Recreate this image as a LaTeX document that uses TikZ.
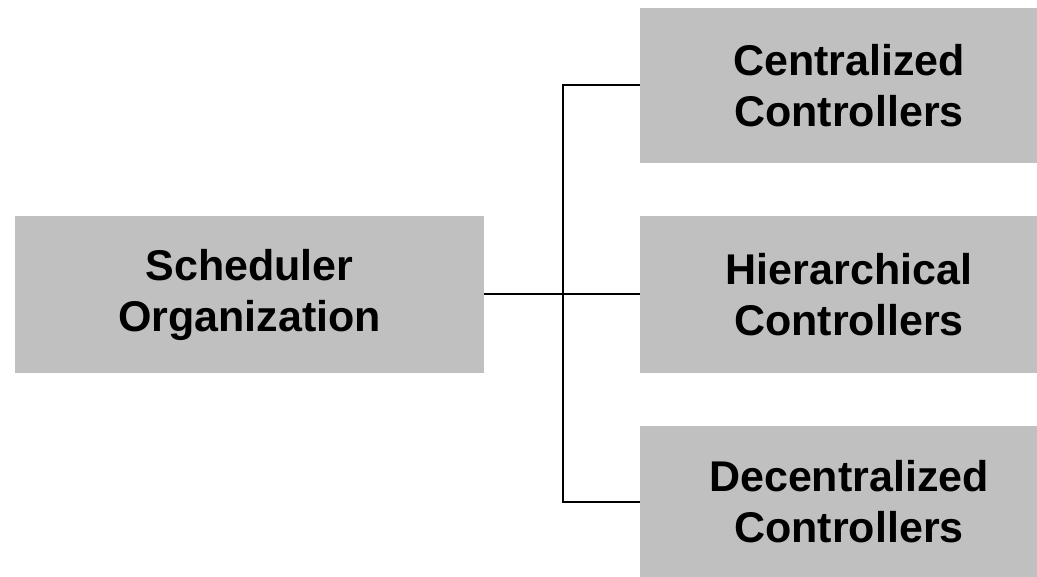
\documentclass[tikz,border=0pt]{standalone}
\usepackage{fontspec}
\setmainfont{Liberation Sans}
\usepackage{tikz}
\definecolor{boxgray}{HTML}{C0C0C0}

\begin{document}
\begin{tikzpicture}[x=1pt,y=-1pt,
    box/.style={fill=boxgray,inner sep=0pt,align=center,
        font=\bfseries\fontsize{43}{51}\selectfont},
    link/.style={line width=2pt}]
                    \useasboundingbox (0,0) rectangle (1037,577);
                    \def\w{418}
                    \def\h{155}
                    \node [box,minimum width=469,minimum height=157] (sched) at (249.5,294.5) {Scheduler\\Organization};
                    \node [box,minimum width=\w,minimum height=\h] (central) at (849,85.5) {Centralized\\Controllers};
                    \node [box,minimum width=\w,minimum height=157] (hier) at (849,294.5) {Hierarchical\\Controllers};
                    \node [box,minimum width=\w,minimum height=151] (decentral) at (849,501.5) {Decentralized\\Controllers};
                    \coordinate (spine) at (563,294.5);
                    \draw [link] (sched.east) -- (spine);
                    \draw [link] (central.west) -| (spine) |- (decentral.west);
                    \draw [link] (spine) -- (hier.west);
                \end{tikzpicture}
\end{document}
